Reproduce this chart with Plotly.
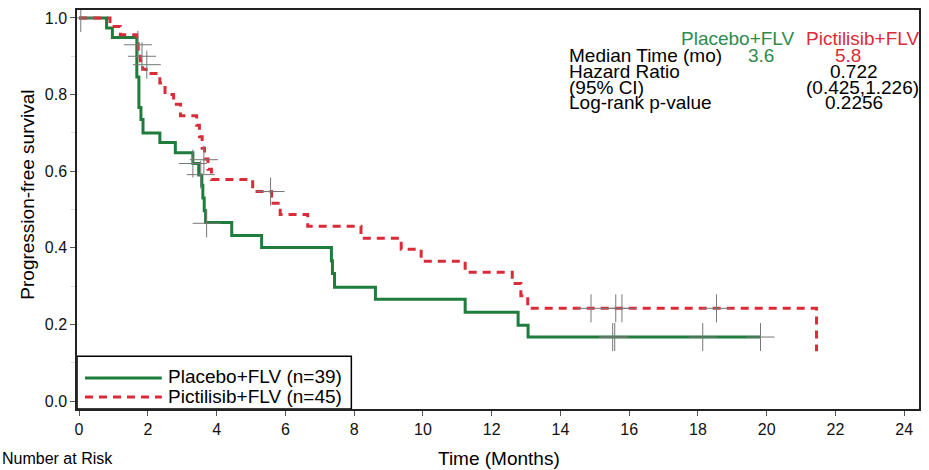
import plotly.graph_objects as go

# ---------------- data ----------------
placebo_t = [0, 0.80, 0.97, 1.68, 1.74, 1.80, 1.86, 2.35, 2.80, 3.31, 3.48, 3.57, 3.60, 3.64, 3.68,
             4.44, 5.31, 7.34, 7.37, 7.43, 8.62, 11.23, 12.77, 13.06, 19.82]
placebo_s = [1.0, 0.974, 0.949, 0.846, 0.766, 0.735, 0.70, 0.675, 0.648, 0.62, 0.59, 0.563, 0.53, 0.497, 0.466,
             0.432, 0.401, 0.366, 0.333, 0.297, 0.266, 0.232, 0.198, 0.167, 0.167]

pictilisib_t = [0, 0.90, 1.20, 1.68, 1.72, 1.78, 1.85, 1.95, 2.35, 2.50, 2.75, 2.95, 3.42, 3.50, 3.58,
                3.65, 3.75, 3.85, 5.05, 5.60, 5.85, 6.65, 8.20, 9.37, 9.95, 11.23, 12.60, 12.85, 13.05, 21.45]
pictilisib_s = [1.0, 0.978, 0.956, 0.933, 0.91, 0.888, 0.866, 0.855, 0.83, 0.80, 0.775, 0.745, 0.72, 0.69, 0.66,
                0.632, 0.605, 0.578, 0.547, 0.516, 0.487, 0.456, 0.425, 0.396, 0.365, 0.336, 0.307, 0.275, 0.242, 0.13]

placebo_cens_t = [3.31, 3.54, 3.71, 15.52, 15.58, 18.14, 19.82]
placebo_cens_s = [0.62, 0.591, 0.464, 0.167, 0.167, 0.167, 0.167]
pictilisib_cens_t = [0.05, 1.71, 1.83, 1.97, 3.63, 5.57, 14.89, 15.61, 15.79, 18.54]
pictilisib_cens_s = [1.0, 0.93, 0.90, 0.878, 0.63, 0.547, 0.242, 0.242, 0.242, 0.242]

x_ticks = [0, 2, 4, 6, 8, 10, 12, 14, 16, 18, 20, 22, 24]
y_ticks = [0.0, 0.2, 0.4, 0.6, 0.8, 1.0]
y_tick_labels = ["0.0", "0.2", "0.4", "0.6", "0.8", "1.0"]

groups = ["Placebo+FLV", "Pictilisib+FLV"]
group_n = [39, 45]
stats_rows = ["Median Time (mo)", "Hazard Ratio", "(95% CI)", "Log-rank p-value"]
median_times = ["3.6", "5.8"]
hazard_ratio = "0.722"
ci_text = "(0.425,1.226)"
p_value = "0.2256"

GREEN = "#1e7d3c"
GREEN_TXT = "#2e8b4e"
RED = "#dc2b38"
FONT = "Arial, Liberation Sans, sans-serif"

# ---------------- layout helpers (pixel -> paper) ----------------
L, R, T, B = 77, 921, 9, 409
W, H = 929, 470


def px(x):
    return (x - L) / (R - L)


def py(y):
    return (B - y) / (B - T)


fig = go.Figure()

fig.add_trace(go.Scatter(x=placebo_t, y=placebo_s, mode="lines", line_shape="hv",
                         line=dict(color=GREEN, width=3), showlegend=False, hoverinfo="skip"))
fig.add_trace(go.Scatter(x=pictilisib_t, y=pictilisib_s, mode="lines", line_shape="hv",
                         line=dict(color=RED, width=3, dash="8px,6px"), showlegend=False, hoverinfo="skip"))
fig.add_trace(go.Scatter(x=placebo_cens_t, y=placebo_cens_s, mode="markers",
                         marker=dict(symbol="cross-thin", size=20, line=dict(color="#777", width=1)),
                         showlegend=False, hoverinfo="skip"))
fig.add_trace(go.Scatter(x=pictilisib_cens_t, y=pictilisib_cens_s, mode="markers",
                         marker=dict(symbol="cross-thin", size=20, line=dict(color="#777", width=1)),
                         showlegend=False, hoverinfo="skip"))

annotations = []


def ann(text, x, y, color="black", xanchor="left", size=19):
    annotations.append(dict(text=text, x=px(x), y=py(y), xref="paper", yref="paper",
                            xanchor=xanchor, yanchor="middle", showarrow=False,
                            font=dict(family=FONT, size=size, color=color)))


# stats block
ann(groups[0], 740, 38, GREEN_TXT, "center")
ann(groups[1], 923, 38, RED, "right")
ann(stats_rows[0], 568, 55)
ann(median_times[0], 763, 55, GREEN_TXT, "center")
ann(median_times[1], 850, 55, RED, "center")
ann(stats_rows[1], 568, 71)
ann(hazard_ratio, 856, 71, "black", "center")
ann(stats_rows[2], 568, 87)
ann(ci_text, 923, 87, "black", "right")
ann(stats_rows[3], 568, 102)
ann(p_value, 856, 102, "black", "center")

# legend text
ann(f"{groups[0]} (n={group_n[0]})", 166, 376)
ann(f"{groups[1]} (n={group_n[1]})", 166, 396)

# axis titles
ann("Progression-free survival", 27, 194, "black", "center")
annotations[-1]["textangle"] = -90
ann("Time (Months)", 500, 459, "black", "center")

# caption at the bottom-left edge
ann("Number at Risk", 0, 459, "black", "left", size=16)

shapes = [
    dict(type="rect", xref="paper", yref="paper", x0=px(77), x1=px(352), y0=py(409), y1=py(356),
         line=dict(color="black", width=1.5), fillcolor="white", layer="below"),
    dict(type="line", xref="paper", yref="paper", x0=px(85), x1=px(162), y0=py(378), y1=py(378),
         line=dict(color=GREEN, width=3)),
    dict(type="line", xref="paper", yref="paper", x0=px(85), x1=px(162), y0=py(397), y1=py(397),
         line=dict(color=RED, width=3, dash="8px,6px")),
]

fig.update_layout(
    width=W, height=H,
    margin=dict(l=L, r=W - R, t=T, b=H - B, pad=0),
    paper_bgcolor="white", plot_bgcolor="white",
    font=dict(family=FONT, size=16, color="black"),
    annotations=annotations, shapes=shapes,
    showlegend=False,
)

fig.update_xaxes(range=[-0.06, 24.43], tickvals=x_ticks, ticks="outside", ticklen=5, tickcolor="#555",
                 showline=True, linecolor="#222", linewidth=1.5, mirror=True, showgrid=False, zeroline=False,
                 tickfont=dict(size=16, color="#111"))
fig.update_yaxes(range=[-0.0208, 1.0208], tickvals=y_ticks, ticktext=y_tick_labels, ticks="outside",
                 ticklen=5, tickcolor="#555", showline=True, linecolor="#222", linewidth=1.5, mirror=True,
                 showgrid=False, zeroline=False, tickfont=dict(size=16, color="#111"),
                 minor=dict(ticks="outside", ticklen=4, tickcolor="#dddddd", dtick=0.1, showgrid=False))

fig.write_html("out.html")
